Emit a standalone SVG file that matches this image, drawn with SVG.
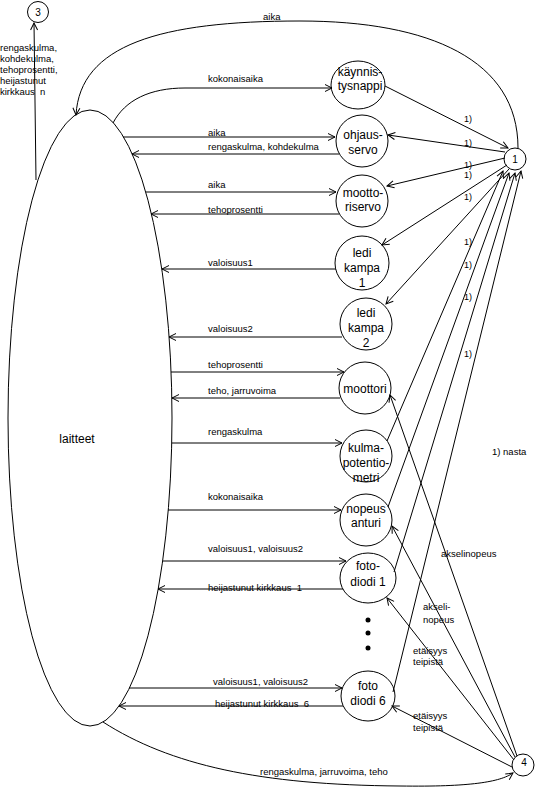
<svg xmlns="http://www.w3.org/2000/svg" width="535" height="794" viewBox="0 0 535 794">
<style>
.n{fill:none;stroke:#000;stroke-width:1}
.c{fill:none;stroke:#000;stroke-width:1}
.t{font-family:"Liberation Sans",Arial,sans-serif;font-size:12px;fill:#000;text-anchor:middle}
.l{font-family:"Liberation Sans",Arial,sans-serif;font-size:9.5px;fill:#000}
.s{font-family:"Liberation Sans",Arial,sans-serif;font-size:9px;fill:#000}
</style>
<defs>
<marker id="a" viewBox="-9 -5 10 10" refX="0" refY="0" markerWidth="10" markerHeight="10" orient="auto" markerUnits="userSpaceOnUse">
<path d="M-7,-3.5 L0,0 L-7,3.5" fill="none" stroke="#000" stroke-width="1"/>
</marker>
</defs>
<rect width="535" height="794" fill="#fff"/>

<g id="laitteet">
<ellipse class="n" cx="90" cy="418" rx="82" ry="308"/>
<text class="t" x="77" y="443">laitteet</text>
</g>
<g id="node3">
<circle class="n" cx="38" cy="12" r="10.5"/>
<text class="t" x="38" y="16" style="font-size:10px">3</text>
</g>
<g id="node1">
<circle class="n" cx="515" cy="159" r="11"/>
<text class="t" x="515" y="163" style="font-size:10px">1</text>
</g>
<g id="node4">
<circle class="n" cx="523" cy="765" r="11"/>
<text class="t" x="524" y="766" style="font-size:10px">4</text>
</g>
<g id="kaynnistysnappi">
<ellipse class="n" cx="358" cy="85" rx="27" ry="24"/>
<text class="t" x="360" y="76">käynnis-</text>
<text class="t" x="360" y="90">tysnappi</text>
</g>
<g id="ohjausservo">
<circle class="n" cx="362" cy="141" r="26"/>
<text class="t" x="363" y="139">ohjaus-</text>
<text class="t" x="363" y="154">servo</text>
</g>
<g id="moottoriservo">
<circle class="n" cx="362" cy="201" r="26"/>
<text class="t" x="363" y="197">mootto-</text>
<text class="t" x="363" y="211">riservo</text>
</g>
<g id="ledikampa1">
<circle class="n" cx="362" cy="263" r="27"/>
<text class="t" x="362" y="257">ledi</text>
<text class="t" x="362" y="272">kampa</text>
<text class="t" x="362" y="287">1</text>
</g>
<g id="ledikampa2">
<circle class="n" cx="366" cy="324" r="26"/>
<text class="t" x="366" y="317">ledi</text>
<text class="t" x="366" y="332">kampa</text>
<text class="t" x="366" y="347">2</text>
</g>
<g id="moottori">
<circle class="n" cx="365" cy="388" r="26"/>
<text class="t" x="365" y="393">moottori</text>
</g>
<g id="kulmapotentiometri">
<circle class="n" cx="366" cy="456" r="26"/>
<text class="t" x="366" y="452">kulma-</text>
<text class="t" x="366" y="467">potentio-</text>
<text class="t" x="366" y="482">metri</text>
</g>
<g id="nopeusanturi">
<circle class="n" cx="366" cy="520" r="26"/>
<text class="t" x="366" y="513">nopeus</text>
<text class="t" x="366" y="527">anturi</text>
</g>
<g id="fotodiodi1">
<ellipse class="n" cx="368" cy="578" rx="28" ry="25"/>
<text class="t" x="368" y="570">foto-</text>
<text class="t" x="368" y="586">diodi 1</text>
</g>
<g id="dots">
<circle cx="368" cy="620" r="2.5" fill="#000"/>
<circle cx="368" cy="633" r="2.5" fill="#000"/>
<circle cx="368" cy="648" r="2.5" fill="#000"/>
</g>
<g id="fotodiodi6">
<ellipse class="n" cx="368" cy="696" rx="27" ry="25"/>
<text class="t" x="368" y="690">foto</text>
<text class="t" x="368" y="705">diodi 6</text>
</g>

<g id="connectors">
<path class="c" d="M36,180 L34,23" marker-end="url(#a)"/>
<path class="c" d="M518,148 C518,60 430,21 300,21 C160,21 80,45 76,115" marker-end="url(#a)"/>
<path class="c" d="M113,123 C125,100 150,88 185,88 L332,88" marker-end="url(#a)"/>
<path class="c" d="M123,137 H335" marker-end="url(#a)"/>
<path class="c" d="M339,154 H132" marker-end="url(#a)"/>
<path class="c" d="M146,192 H336" marker-end="url(#a)"/>
<path class="c" d="M339,214 H151" marker-end="url(#a)"/>
<path class="c" d="M336,269 H162" marker-end="url(#a)"/>
<path class="c" d="M342,337 H169" marker-end="url(#a)"/>
<path class="c" d="M171,372 H344" marker-end="url(#a)"/>
<path class="c" d="M340,398 H172" marker-end="url(#a)"/>
<path class="c" d="M172,443 H342" marker-end="url(#a)"/>
<path class="c" d="M168,510 H341" marker-end="url(#a)"/>
<path class="c" d="M163,561 H346" marker-end="url(#a)"/>
<path class="c" d="M343,589 H158" marker-end="url(#a)"/>
<path class="c" d="M129,688 H342" marker-end="url(#a)"/>
<path class="c" d="M343,706 H119" marker-end="url(#a)"/>
<path class="c" d="M103,722 C170,765 260,785 400,786 C470,787 500,782 513,773" marker-end="url(#a)"/>
<path class="c" d="M385,86 L508,148" marker-end="url(#a)"/>
<path class="c" d="M505,152 L388,135" marker-end="url(#a)"/>
<path class="c" d="M505,158 L387,186" marker-end="url(#a)"/>
<path class="c" d="M507,165 L382,245" marker-end="url(#a)"/>
<path class="c" d="M509,169 L386,304" marker-end="url(#a)"/>
<path class="c" d="M387,441 L503,171" marker-end="url(#a)"/>
<path class="c" d="M388,507 L509,173" marker-end="url(#a)"/>
<path class="c" d="M394,572 L515,173" marker-end="url(#a)"/>
<path class="c" d="M393,692 L521,171" marker-end="url(#a)"/>
<path class="c" d="M517,756 L390,395" marker-end="url(#a)"/>
<path class="c" d="M515,757 L392,526" marker-end="url(#a)"/>
<path class="c" d="M514,760 L387,598" marker-end="url(#a)"/>
<path class="c" d="M512,767 L392,706" marker-end="url(#a)"/>
</g>

<g id="labels">
<text class="l" x="0" y="51">rengaskulma,</text>
<text class="l" x="0" y="62">kohdekulma,</text>
<text class="l" x="0" y="73">tehoprosentti,</text>
<text class="l" x="0" y="84">heijastunut</text>
<text class="l" x="0" y="95" xml:space="preserve">kirkkaus  n</text>
<text class="l" x="263" y="20">aika</text>
<text class="l" x="208" y="82">kokonaisaika</text>
<text class="l" x="208" y="136">aika</text>
<text class="l" x="208" y="150">rengaskulma, kohdekulma</text>
<text class="l" x="208" y="188">aika</text>
<text class="l" x="208" y="213">tehoprosentti</text>
<text class="l" x="208" y="266">valoisuus1</text>
<text class="l" x="208" y="332">valoisuus2</text>
<text class="l" x="208" y="368">tehoprosentti</text>
<text class="l" x="208" y="394">teho, jarruvoima</text>
<text class="l" x="208" y="435">rengaskulma</text>
<text class="l" x="208" y="500">kokonaisaika</text>
<text class="l" x="208" y="552">valoisuus1, valoisuus2</text>
<text class="l" x="208" y="591" xml:space="preserve">heijastunut kirkkaus  1</text>
<text class="l" x="213" y="685">valoisuus1, valoisuus2</text>
<text class="l" x="215" y="707" xml:space="preserve">heijastunut kirkkaus  6</text>
<text class="l" x="260" y="775">rengaskulma, jarruvoima, teho</text>
<text class="s" x="464" y="122">1)</text>
<text class="s" x="464" y="146">1)</text>
<text class="s" x="464" y="168">1)</text>
<text class="s" x="464" y="178">1)</text>
<text class="s" x="464" y="200">1)</text>
<text class="s" x="464" y="245">1)</text>
<text class="s" x="464" y="268">1)</text>
<text class="s" x="464" y="300">1)</text>
<text class="s" x="464" y="357">1)</text>
<text class="l" x="492" y="455">1) nasta</text>
<text class="l" x="441" y="557">akselinopeus</text>
<text class="l" x="423" y="610">akseli-</text>
<text class="l" x="423" y="623">nopeus</text>
<text class="l" x="413" y="654">etäisyys</text>
<text class="l" x="413" y="665">teipistä</text>
<text class="l" x="413" y="719">etäisyys</text>
<text class="l" x="413" y="731">teipistä</text>
</g>
</svg>
